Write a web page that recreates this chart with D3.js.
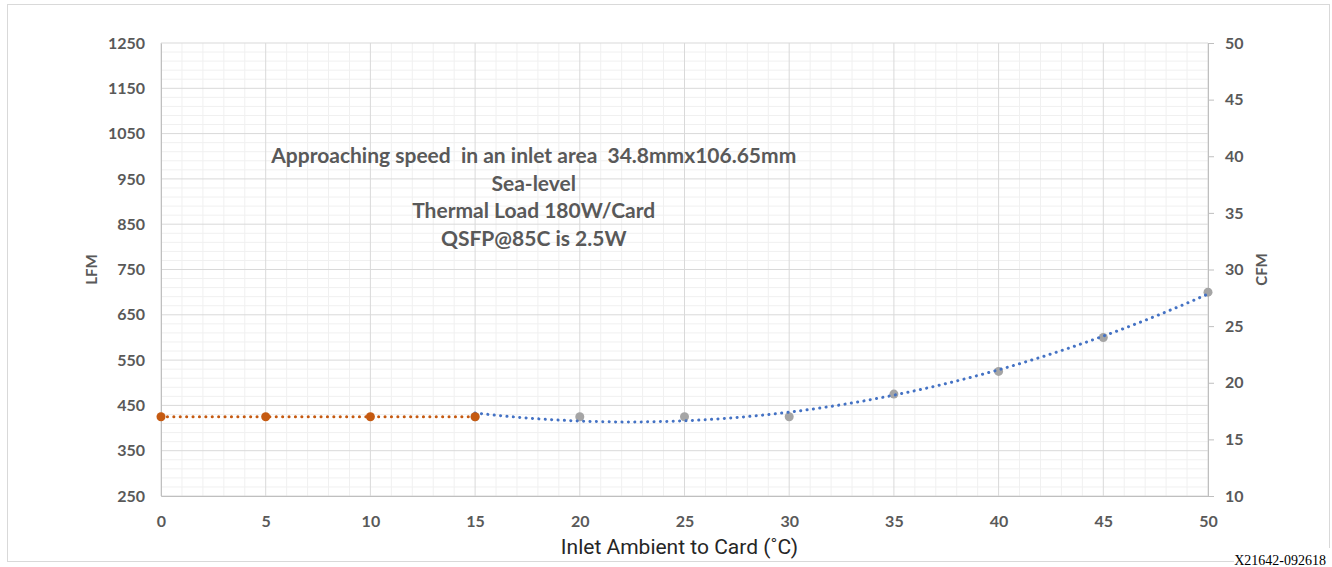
<!DOCTYPE html>
<html>
<head>
<meta charset="utf-8">
<script src="https://cdn.jsdelivr.net/npm/d3@7"></script>
<style>
  body { margin: 0; background: #fff; }
  text { font-family: Lato, "Open Sans", sans-serif; }
</style>
</head>
<body>
<div id="chart-area"></div>
<script>
// data
var measTemps = [15, 20, 25, 30, 35, 40, 45, 50];
var measLfm = [425, 425, 425, 425, 475, 525, 600, 700];
var flatTemps = [0, 5, 10, 15];
var flatLfm = [425, 425, 425, 425];
var lfmTicks = [250, 350, 450, 550, 650, 750, 850, 950, 1050, 1150, 1250];
var cfmTicks = [10, 15, 20, 25, 30, 35, 40, 45, 50];
var tempTicks = [0, 5, 10, 15, 20, 25, 30, 35, 40, 45, 50];
var notes = ["Approaching speed  in an inlet area  34.8mmx106.65mm", "Sea-level", "Thermal Load 180W/Card", "QSFP@85C is 2.5W"];

var W = 1332, H = 567;
var margin = {left: 161, top: 43, right: 124, bottom: 71};
var width = W - margin.left - margin.right,
    height = H - margin.top - margin.bottom;

var svg = d3.select("#chart-area")
    .append("svg")
        .attr("width", W)
        .attr("height", H);

// chart border
svg.append("rect")
    .attr("x", 7.5).attr("y", 4.5)
    .attr("width", 1322).attr("height", 557)
    .attr("fill", "none")
    .attr("stroke", "#d9d9d9");

var g = svg.append("g")
    .attr("transform", "translate(" + margin.left + ", " + margin.top + ")");

var x = d3.scaleLinear().domain([0, 50]).range([0, width]);
var y = d3.scaleLinear().domain([250, 1250]).range([height, 0]);
var y2 = d3.scaleLinear().domain([10, 50]).range([height, 0]);

// minor grid
g.append("g").selectAll("line")
    .data(d3.range(0, 51, 1).filter(d => d % 5 != 0))
    .enter().append("line")
        .attr("x1", d => x(d)).attr("x2", d => x(d))
        .attr("y1", 0).attr("y2", height)
        .attr("stroke", "#f0f0f0");
g.append("g").selectAll("line")
    .data(d3.range(250, 1251, 20).filter(d => (d - 250) % 100 != 0))
    .enter().append("line")
        .attr("x1", 0).attr("x2", width)
        .attr("y1", d => y(d)).attr("y2", d => y(d))
        .attr("stroke", "#f0f0f0");

// major grid
g.append("g").selectAll("line")
    .data(tempTicks)
    .enter().append("line")
        .attr("x1", d => x(d)).attr("x2", d => x(d))
        .attr("y1", 0).attr("y2", height)
        .attr("stroke", "#d9d9d9");
g.append("g").selectAll("line")
    .data(lfmTicks)
    .enter().append("line")
        .attr("x1", 0).attr("x2", width)
        .attr("y1", d => y(d)).attr("y2", d => y(d))
        .attr("stroke", "#d9d9d9");

// axes
var tickStyle = sel => {
    sel.select(".domain").attr("stroke", "#bfbfbf");
    sel.selectAll(".tick line").attr("stroke", "#bfbfbf");
    sel.selectAll(".tick text")
        .attr("fill", "#595959")
        .attr("font-size", 16)
        .attr("font-weight", "bold")
        .attr("font-family", "Lato, sans-serif");
};

g.append("g")
    .call(d3.axisLeft(y).tickValues(lfmTicks).tickSize(0).tickPadding(16).tickFormat(d3.format("d")))
    .call(tickStyle);

g.append("g")
    .attr("transform", "translate(0, " + height + ")")
    .call(d3.axisBottom(x).tickValues(tempTicks).tickSize(0).tickPadding(20))
    .call(tickStyle);

g.append("g")
    .attr("transform", "translate(" + width + ", 0)")
    .call(d3.axisRight(y2).tickValues(cfmTicks).tickSize(6).tickSizeOuter(6).tickPadding(11))
    .call(tickStyle);

// axis titles
g.append("text")
    .attr("transform", "translate(-64, " + (height / 2) + ") rotate(-90)")
    .attr("text-anchor", "middle")
    .attr("font-size", 15)
    .attr("font-weight", "bold")
    .attr("fill", "#595959")
    .text("LFM");

g.append("text")
    .attr("transform", "translate(" + (width + 59) + ", " + (height / 2) + ") rotate(-90)")
    .attr("text-anchor", "middle")
    .attr("font-size", 15)
    .attr("font-weight", "bold")
    .attr("fill", "#595959")
    .text("CFM");

g.append("text")
    .attr("x", width / 2 - 5)
    .attr("y", height + 58)
    .attr("text-anchor", "middle")
    .attr("font-size", 21)
    .style("font-family", "Roboto, sans-serif")
    .attr("fill", "#262626")
    .text("Inlet Ambient to Card (˚C)");

// notes in the plot
g.append("g").selectAll("text")
    .data(notes)
    .enter().append("text")
        .attr("x", x(17.8))
        .attr("y", (d, i) => 120 + i * 27.5)
        .attr("text-anchor", "middle")
        .attr("font-size", 21)
        .attr("font-weight", "bold")
        .attr("fill", "#595959")
        .style("white-space", "pre")
        .text(d => d);

// quadratic least squares trendline for the measured points
function polyFit(xs, ys) {
    var s = [0, 0, 0, 0, 0], t = [0, 0, 0];
    xs.forEach((xv, i) => {
        for (var k = 0; k < 5; k++) s[k] += Math.pow(xv, k);
        for (var k = 0; k < 3; k++) t[k] += Math.pow(xv, k) * ys[i];
    });
    var A = [[s[0], s[1], s[2], t[0]], [s[1], s[2], s[3], t[1]], [s[2], s[3], s[4], t[2]]];
    for (var c = 0; c < 3; c++) {
        for (var r = c + 1; r < 3; r++) {
            var f = A[r][c] / A[c][c];
            for (var k = c; k < 4; k++) A[r][k] -= f * A[c][k];
        }
    }
    var co = [0, 0, 0];
    for (var r = 2; r >= 0; r--) {
        var v = A[r][3];
        for (var k = r + 1; k < 3; k++) v -= A[r][k] * co[k];
        co[r] = v / A[r][r];
    }
    return xv => co[0] + co[1] * xv + co[2] * xv * xv;
}
var fit = polyFit(measTemps, measLfm);
var trendX = d3.range(measTemps[0], measTemps[measTemps.length - 1] + 0.01, 0.5);

var line = d3.line().x(d => x(d[0])).y(d => y(d[1]));

g.append("path")
    .datum(flatTemps.map((d, i) => [d, flatLfm[i]]))
    .attr("d", line)
    .attr("fill", "none")
    .attr("stroke", "#c55a11")
    .attr("stroke-width", 3)
    .attr("stroke-linecap", "round")
    .attr("stroke-dasharray", "0.1 6.3");

g.append("g").selectAll("circle")
    .data(measTemps.map((d, i) => [d, measLfm[i]]))
    .enter().append("circle")
        .attr("cx", d => x(d[0]))
        .attr("cy", d => y(d[1]))
        .attr("r", 4.5)
        .attr("fill", "#a5a5a5");

g.append("path")
    .datum(trendX.map(d => [d, fit(d)]))
    .attr("d", line)
    .attr("fill", "none")
    .attr("stroke", "#4472c4")
    .attr("stroke-width", 3)
    .attr("stroke-linecap", "round")
    .attr("stroke-dasharray", "0.1 6.3");

g.append("g").selectAll("circle")
    .data(flatTemps.map((d, i) => [d, flatLfm[i]]))
    .enter().append("circle")
        .attr("cx", d => x(d[0]))
        .attr("cy", d => y(d[1]))
        .attr("r", 4.5)
        .attr("fill", "#c55a11");

// figure id
svg.append("rect")
    .attr("x", 1234).attr("y", 548)
    .attr("width", 98).attr("height", 19)
    .attr("fill", "#fff");
svg.append("text")
    .attr("x", 1326)
    .attr("y", 565)
    .attr("text-anchor", "end")
    .style("font-family", "'Liberation Serif', serif")
    .attr("font-size", 14)
    .attr("fill", "#000")
    .text("X21642-092618");
</script>
</body>
</html>
